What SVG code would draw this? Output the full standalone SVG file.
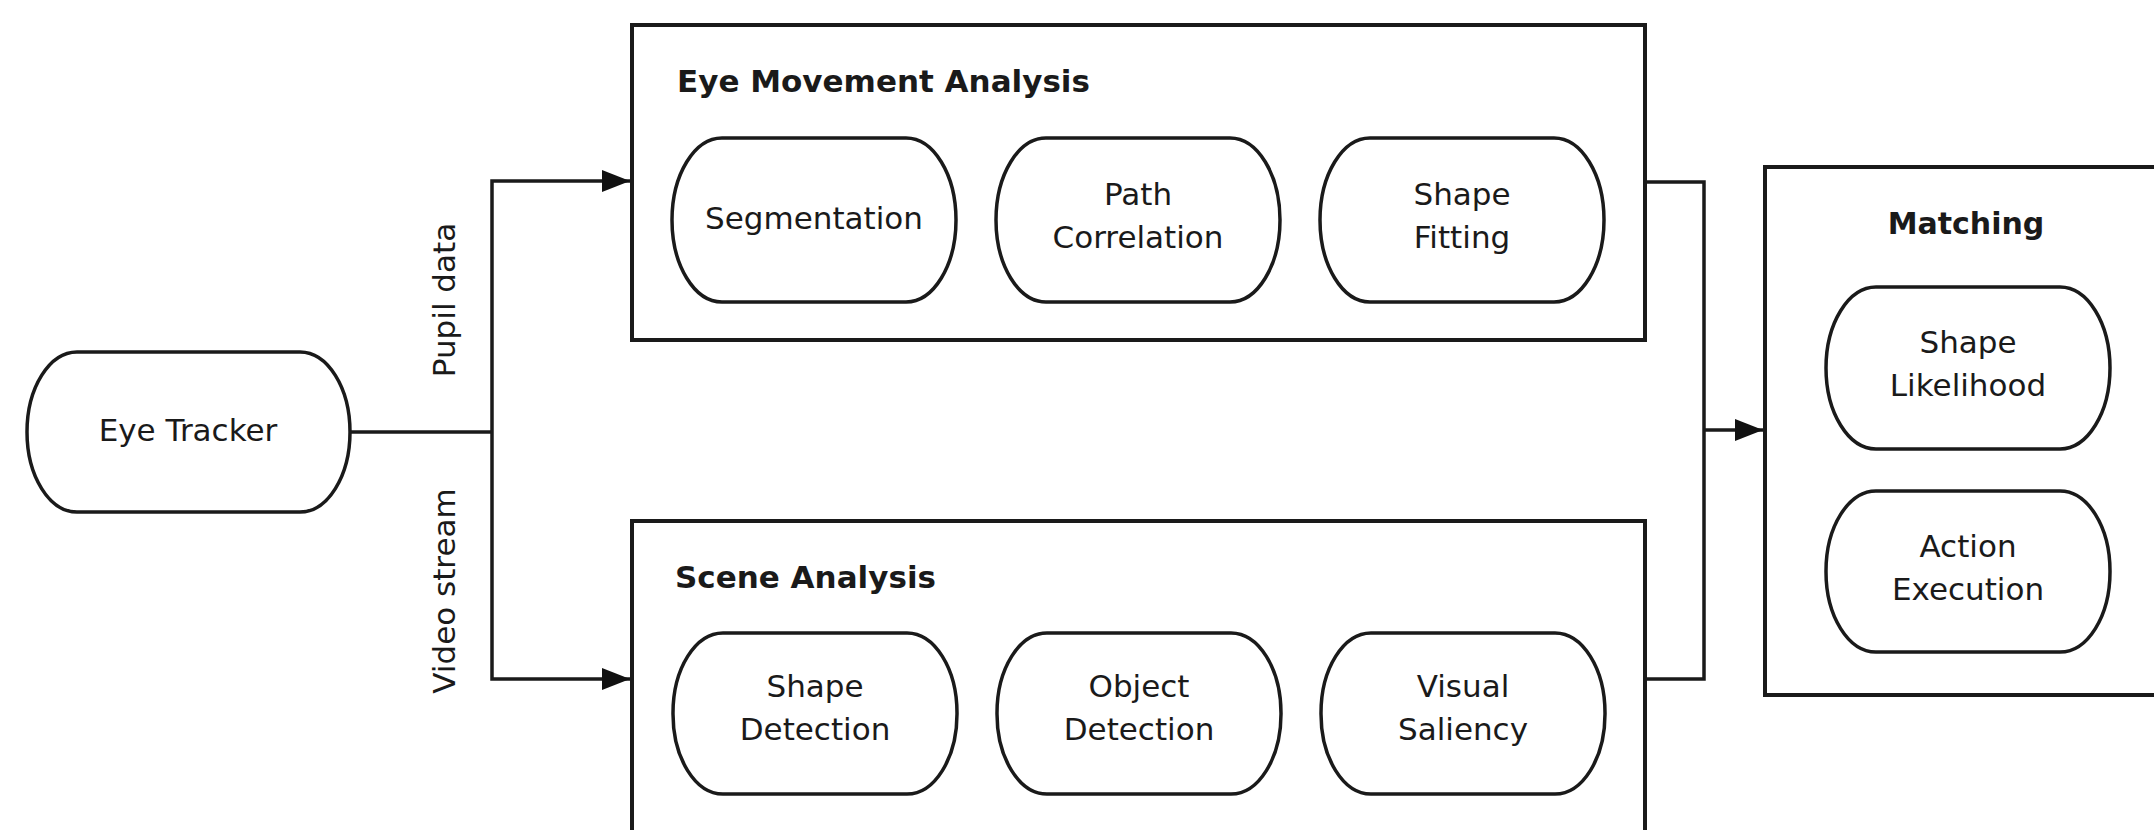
<svg xmlns="http://www.w3.org/2000/svg" width="2154" height="830" viewBox="0 0 2154 830">
<style>
.bg{fill:#ffffff}
.box{fill:#ffffff;stroke:#1a1a1a;stroke-width:4}
.node{fill:#ffffff;stroke:#1a1a1a;stroke-width:3.5}
.lbl{font-family:"DejaVu Sans",sans-serif;font-size:31px;fill:#1a1a1a;text-anchor:middle}
.title{font-family:"DejaVu Sans",sans-serif;font-size:31px;font-weight:bold;fill:#1a1a1a}
.conn{fill:none;stroke:#1a1a1a;stroke-width:3.5}
</style>
<defs>
<marker id="arrow" viewBox="0 0 28 22" refX="28" refY="11" markerWidth="28" markerHeight="22" markerUnits="userSpaceOnUse" orient="auto">
<path d="M0,0 L28,11 L0,22 z" fill="#111"/>
</marker>
</defs>
<rect class="bg" x="0" y="0" width="2154" height="830"/>

<g id="eye-movement-analysis">
<rect class="box" x="632" y="25" width="1013" height="315"/>
<text class="title" x="677" y="92">Eye Movement Analysis</text>
</g>
<g id="segmentation">
<rect class="node" x="672" y="138" width="284" height="164" rx="50" ry="82"/>
<text class="lbl" x="814" y="229">Segmentation</text>
</g>
<g id="path-correlation">
<rect class="node" x="996" y="138" width="284" height="164" rx="50" ry="82"/>
<text class="lbl" x="1138" y="205">Path</text>
<text class="lbl" x="1138" y="248">Correlation</text>
</g>
<g id="shape-fitting">
<rect class="node" x="1320" y="138" width="284" height="164" rx="50" ry="82"/>
<text class="lbl" x="1462" y="205">Shape</text>
<text class="lbl" x="1462" y="248">Fitting</text>
</g>

<g id="scene-analysis">
<rect class="box" x="632" y="521" width="1013" height="330"/>
<text class="title" x="675" y="588">Scene Analysis</text>
</g>
<g id="shape-detection">
<rect class="node" x="673" y="633" width="284" height="161" rx="50" ry="80"/>
<text class="lbl" x="815" y="697">Shape</text>
<text class="lbl" x="815" y="740">Detection</text>
</g>
<g id="object-detection">
<rect class="node" x="997" y="633" width="284" height="161" rx="50" ry="80"/>
<text class="lbl" x="1139" y="697">Object</text>
<text class="lbl" x="1139" y="740">Detection</text>
</g>
<g id="visual-saliency">
<rect class="node" x="1321" y="633" width="284" height="161" rx="50" ry="80"/>
<text class="lbl" x="1463" y="697">Visual</text>
<text class="lbl" x="1463" y="740">Saliency</text>
</g>

<g id="matching">
<rect class="box" x="1765" y="167" width="420" height="528"/>
<text class="title" x="1966" y="234" text-anchor="middle" style="font-size:30px">Matching</text>
</g>
<g id="shape-likelihood">
<rect class="node" x="1826" y="287" width="284" height="162" rx="50" ry="81"/>
<text class="lbl" x="1968" y="353">Shape</text>
<text class="lbl" x="1968" y="396">Likelihood</text>
</g>
<g id="action-execution">
<rect class="node" x="1826" y="491" width="284" height="161" rx="50" ry="80"/>
<text class="lbl" x="1968" y="557">Action</text>
<text class="lbl" x="1968" y="600">Execution</text>
</g>

<g id="eye-tracker">
<rect class="node" x="27" y="352" width="323" height="160" rx="50" ry="80"/>
<text class="lbl" x="188" y="441">Eye Tracker</text>
</g>

<g id="connectors">
<path class="conn" d="M350,432 H492"/>
<path class="conn" d="M492,432 V181 H630" marker-end="url(#arrow)"/>
<path class="conn" d="M492,432 V679 H630" marker-end="url(#arrow)"/>
<path class="conn" d="M1645,182 H1704 V679 H1645"/>
<path class="conn" d="M1704,430 H1763" marker-end="url(#arrow)"/>
<text class="lbl" transform="translate(455,300) rotate(-90)">Pupil data</text>
<text class="lbl" transform="translate(455,591) rotate(-90)">Video stream</text>
</g>
</svg>
